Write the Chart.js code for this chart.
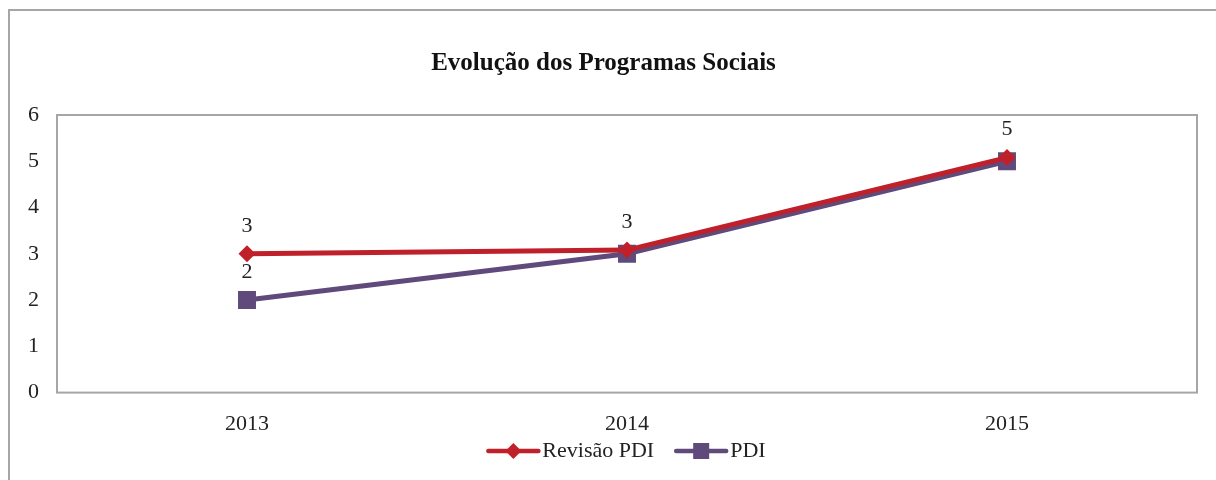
<!DOCTYPE html>
<html>
<head>
<meta charset="utf-8">
<script src="https://cdn.jsdelivr.net/npm/chart.js@4.4.1/dist/chart.umd.min.js"></script>
<style>
  html, body { margin: 0; padding: 0; background: #fff; }
  #wrap { position: absolute; left: 8px; top: 9px; width: 1208px; height: 471px; box-sizing: border-box;
          border-left: 2px solid #a6a6a6; border-top: 2px solid #a6a6a6; }
  #chartContainer { position: absolute; left: 0; top: 0; width: 1206px; height: 469px; }
</style>
</head>
<body>
<div id="wrap"><div id="chartContainer"><canvas id="evoChart"></canvas></div></div>
<script>
const years = ["2013", "2014", "2015"];
const revisaoPDI = [3, 3.08, 5.08];
const pdi = [2, 3, 5];
const yTicks = [0, 1, 2, 3, 4, 5, 6];

const serif = "'Liberation Serif', 'Times New Roman', serif";
const red = "#c0202a";
const purple = "#604a7b";

// box around plot area
const plotBox = {
    id: "plotBox",
    beforeDatasetsDraw(chart) {
        const {ctx, chartArea: a} = chart;
        ctx.save();
        ctx.strokeStyle = "#a6a6a6";
        ctx.lineWidth = 2;
        ctx.strokeRect(a.left, a.top, a.right - a.left, a.bottom - a.top);
        ctx.restore();
    }
};

// value labels above the points (only one label when they coincide)
const valueLabels = {
    id: "valueLabels",
    afterDatasetsDraw(chart) {
        const ctx = chart.ctx;
        ctx.save();
        ctx.font = "22px " + serif;
        ctx.fillStyle = "#222";
        ctx.textAlign = "center";
        ctx.textBaseline = "bottom";
        const drawn = {};
        chart.data.datasets.forEach((ds, i) => {
            const meta = chart.getDatasetMeta(i);
            meta.data.forEach((pt, j) => {
                const txt = String(Math.round(ds.data[j]));
                if (drawn[j] === txt) return;
                drawn[j] = txt;
                ctx.fillText(txt, pt.x, pt.y - 17);
            });
        });
        ctx.restore();
    }
};

// excel style legend: line with marker
const lineLegend = {
    id: "lineLegend",
    afterDraw(chart) {
        const ctx = chart.ctx;
        const y = 440;
        ctx.save();
        ctx.font = "22px " + serif;
        ctx.textBaseline = "middle";
        const items = chart.data.datasets.map(ds => ({ds, w: 50 + 4 + ctx.measureText(ds.label).width}));
        const gap = 22;
        const total = items.reduce((s, it) => s + it.w, 0) + gap * (items.length - 1);
        let x = (chart.chartArea.left + chart.chartArea.right) / 2 - total / 2;
        items.forEach(it => {
            const ds = it.ds;
            ctx.strokeStyle = ds.borderColor;
            ctx.lineWidth = 4.5;
            ctx.lineCap = "round";
            ctx.beginPath();
            ctx.moveTo(x, y);
            ctx.lineTo(x + 50, y);
            ctx.stroke();
            ctx.fillStyle = ds.borderColor;
            const cx = x + 25;
            if (ds.pointStyle === "rectRot") {
                ctx.beginPath();
                ctx.moveTo(cx, y - 8); ctx.lineTo(cx + 8, y); ctx.lineTo(cx, y + 8); ctx.lineTo(cx - 8, y);
                ctx.closePath(); ctx.fill();
            } else {
                ctx.fillRect(cx - 8, y - 8, 16, 16);
            }
            ctx.fillStyle = "#222";
            ctx.fillText(ds.label, x + 54, y);
            x += it.w + gap;
        });
        ctx.restore();
    }
};

const ctx = document.getElementById("evoChart").getContext("2d");
new Chart(ctx, {
    type: "line",
    data: {
        labels: years,
        datasets: [
            {
                label: "Revisão PDI",
                data: revisaoPDI,
                borderColor: red,
                backgroundColor: red,
                borderWidth: 5,
                pointStyle: "rectRot",
                pointRadius: 8.5,
                pointBorderWidth: 0,
                tension: 0
            },
            {
                label: "PDI",
                data: pdi,
                borderColor: purple,
                backgroundColor: purple,
                borderWidth: 5,
                pointStyle: "rect",
                pointRadius: 12.7,
                pointBorderWidth: 0,
                tension: 0
            }
        ]
    },
    options: {
        responsive: true,
        maintainAspectRatio: false,
        animation: false,
        layout: { padding: { left: 0, right: 19, top: 0, bottom: 25 } },
        plugins: {
            title: {
                display: true,
                text: "Evolução dos Programas Sociais",
                color: "#111",
                font: { family: serif, size: 25, weight: "bold" },
                padding: { top: 38, bottom: 36 }
            },
            legend: { display: false },
            tooltip: { enabled: false }
        },
        scales: {
            x: {
                offset: true,
                grid: { display: false, drawTicks: false },
                border: { display: false },
                ticks: { color: "#222", font: { family: serif, size: 22 }, padding: 18 }
            },
            y: {
                min: 0,
                max: 6,
                afterBuildTicks: axis => { axis.ticks = yTicks.map(v => ({value: v})); },
                grid: { display: false, drawTicks: false },
                border: { display: false },
                ticks: { color: "#222", font: { family: serif, size: 22 }, padding: 18 }
            }
        }
    },
    plugins: [plotBox, valueLabels, lineLegend]
});
</script>
</body>
</html>
